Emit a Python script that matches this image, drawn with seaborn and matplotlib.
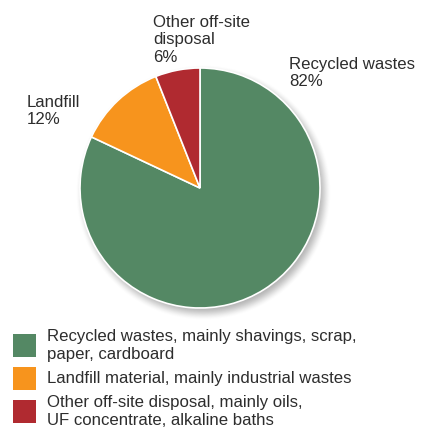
import numpy as np
import matplotlib
matplotlib.use("Agg")
import matplotlib.pyplot as plt
from matplotlib.patches import Rectangle
import seaborn as sns

# Waste shares by destination
categories = ["Recycled wastes", "Landfill", "Other off-site\ndisposal"]
shares = [82, 12, 6]
legend_labels = [
    "Recycled wastes, mainly shavings, scrap,\npaper, cardboard",
    "Landfill material, mainly industrial wastes",
    "Other off-site disposal, mainly oils,\nUF concentrate, alkaline baths",
]
colors = ["#548864", "#F7941D", "#B02A30"]

sns.set_style("white")
plt.rcParams["font.family"] = ["Liberation Sans", "DejaVu Sans"]

W, H = 424, 429
fig = plt.figure(figsize=(W / 100, H / 100), dpi=100)
ax = fig.add_axes([0, 0, 1, 1])

palette = sns.color_palette(colors)
txt_color = "#2d2d2d"
fs = 12.1

cx, cy, r = 200, H - 188, 120

# soft drop shadow under the pie
yy, xx = np.mgrid[0:H, 0:W]
d = np.hypot(xx - (cx + 3), (H - yy) - (cy - 4))
t = np.clip((d - (r - 6)) / 14.0, 0, 1)
alpha = 0.45 * (1 - (3 * t**2 - 2 * t**3))
shadow = np.zeros((H, W, 4))
shadow[..., :3] = 0.35
shadow[..., 3] = alpha
ax.imshow(shadow, extent=(0, W, 0, H), origin="upper", zorder=0, interpolation="bilinear")

wedges, _ = ax.pie(
    shares,
    colors=palette,
    startangle=90,
    counterclock=False,
    center=(cx, cy),
    radius=r,
    wedgeprops=dict(edgecolor="white", linewidth=1.2),
    frame=True,
)
for w in wedges:
    w.set_zorder(2)

# slice annotations
label_pos = [(289, 57), (27, 95), (153, 15)]
for name, val, (x, y) in zip(categories, shares, label_pos):
    ax.text(x, H - y, f"{name}\n{val}%", ha="left", va="top", fontsize=fs,
            color=txt_color, linespacing=1.2, zorder=3)

# legend
box_y = [345.5, 378.5, 411.5]
for lab, col, yc in zip(legend_labels, palette, box_y):
    ax.add_patch(Rectangle((13, H - yc - 11.5), 23, 23, facecolor=col,
                           edgecolor="none", zorder=3))
    ax.text(47, H - yc, lab, ha="left", va="center", fontsize=fs,
            color=txt_color, linespacing=1.2, zorder=3)

ax.set_xlim(0, W)
ax.set_ylim(0, H)
ax.set_aspect("auto")
ax.axis("off")

fig.savefig("out.png", dpi=100, facecolor="white")
